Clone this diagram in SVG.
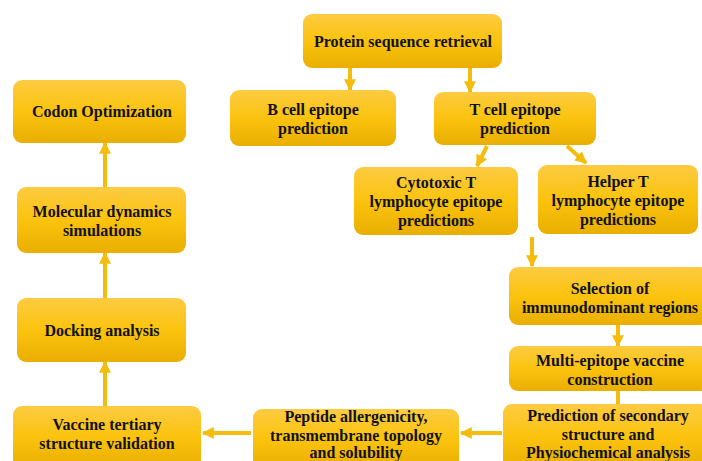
<svg xmlns="http://www.w3.org/2000/svg" width="702" height="461" viewBox="0 0 702 461">
<defs>
<linearGradient id="g" x1="0" y1="0" x2="0" y2="1">
<stop offset="0" stop-color="#FDCB42"/>
<stop offset="0.5" stop-color="#FBC30E"/>
<stop offset="1" stop-color="#E9AE02"/>
</linearGradient>
<marker id="ah" viewBox="0 0 10 10" refX="9" refY="5" markerWidth="3" markerHeight="3" orient="auto" markerUnits="strokeWidth">
<path d="M0,0 L10,5 L0,10 z" fill="#F4BC0C"/>
</marker>
<style>
.box{fill:url(#g);}
.t{font-family:"Liberation Serif","Times New Roman",serif;font-weight:bold;font-size:16px;fill:#111;text-anchor:middle;}
.c{stroke:#F4BC0C;stroke-width:4;fill:none;marker-end:url(#ah);}
.cn{stroke:#F4BC0C;stroke-width:4;fill:none;}
</style>
</defs>
<rect width="702" height="461" fill="#fff"/>
<g id="connectors">
<line class="c" x1="350" y1="68" x2="350" y2="90"/>
<line class="c" x1="470" y1="68" x2="470" y2="92"/>
<line class="c" x1="487" y1="146" x2="477" y2="166"/>
<line class="c" x1="567" y1="146" x2="586" y2="163"/>
<line class="c" x1="532" y1="237" x2="532" y2="266"/>
<line class="c" x1="618" y1="325" x2="618" y2="346"/>
<line class="cn" x1="618" y1="390" x2="618" y2="405"/>
<line class="c" x1="502" y1="433" x2="461" y2="433"/>
<line class="c" x1="251" y1="433" x2="203" y2="433"/>
<line class="c" x1="105" y1="406" x2="105" y2="362"/>
<line class="c" x1="105" y1="298" x2="105" y2="253"/>
<line class="c" x1="105" y1="187" x2="105" y2="143"/>
</g>
<g id="protein"><rect class="box" x="303" y="14" width="199" height="54" rx="9"/><text class="t" x="403" y="47">Protein sequence retrieval</text></g>
<g id="bcell"><rect class="box" x="230" y="90" width="166" height="56" rx="9"/><text class="t" x="313" y="115">B cell epitope</text><text class="t" x="313" y="134">prediction</text></g>
<g id="tcell"><rect class="box" x="434" y="92" width="162" height="53" rx="9"/><text class="t" x="515" y="115">T cell epitope</text><text class="t" x="515" y="134">prediction</text></g>
<g id="cytotoxic"><rect class="box" x="354" y="167" width="164" height="68" rx="9"/><text class="t" x="436" y="188">Cytotoxic T</text><text class="t" x="436" y="207">lymphocyte epitope</text><text class="t" x="436" y="226">predictions</text></g>
<g id="helper"><rect class="box" x="538" y="165" width="160" height="69" rx="9"/><text class="t" x="618" y="187">Helper T</text><text class="t" x="618" y="206">lymphocyte epitope</text><text class="t" x="618" y="225">predictions</text></g>
<g id="selection"><rect class="box" x="509" y="267" width="200" height="58" rx="9"/><text class="t" x="610" y="294">Selection of</text><text class="t" x="610" y="313">immunodominant regions</text></g>
<g id="multi"><rect class="box" x="509" y="346" width="200" height="45" rx="9"/><text class="t" x="610" y="366">Multi-epitope vaccine</text><text class="t" x="610" y="385">construction</text></g>
<g id="prediction"><rect class="box" x="503" y="404" width="206" height="66" rx="9"/><text class="t" x="608" y="421">Prediction of secondary</text><text class="t" x="608" y="440">structure and</text><text class="t" x="608" y="458">Physiochemical analysis</text></g>
<g id="peptide"><rect class="box" x="253" y="409" width="206" height="60" rx="9"/><text class="t" x="356" y="422">Peptide allergenicity,</text><text class="t" x="356" y="441">transmembrane topology</text><text class="t" x="356" y="458">and solubility</text></g>
<g id="tertiary"><rect class="box" x="13" y="406" width="188" height="62" rx="9"/><text class="t" x="107" y="430">Vaccine tertiary</text><text class="t" x="107" y="449">structure validation</text></g>
<g id="docking"><rect class="box" x="17" y="298" width="169" height="64" rx="9"/><text class="t" x="102" y="336">Docking analysis</text></g>
<g id="md"><rect class="box" x="17" y="187" width="169" height="66" rx="9"/><text class="t" x="102" y="217">Molecular dynamics</text><text class="t" x="102" y="236">simulations</text></g>
<g id="codon"><rect class="box" x="13" y="80" width="173" height="63" rx="9"/><text class="t" x="102" y="117">Codon Optimization</text></g>
</svg>
